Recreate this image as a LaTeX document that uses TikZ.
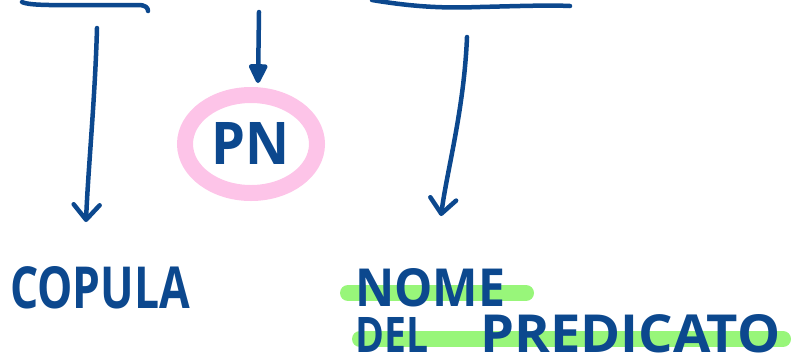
\documentclass[tikz,border=0pt]{standalone}
\usepackage{fontspec}
\setmainfont{Open Sans}
\usepackage{graphicx}
\usetikzlibrary{arrows.meta,shapes.geometric}
\definecolor{ink}{RGB}{12,72,142}
\definecolor{pinkring}{RGB}{253,196,232}
\definecolor{hlgreen}{RGB}{152,246,122}
\tikzset{
  pen/.style={draw=ink, line width=4.5pt, line cap=round, line join=round},
  openhead/.style={-{Straight Barb[length=15pt,width=26pt,line width=4.5pt,round]}},
  solidhead/.style={-{Triangle[length=22pt,width=20pt,round]}},
  word/.style={text=ink, inner sep=0pt, anchor=north west, font=\bfseries},
  marker/.style={draw=hlgreen, line width=16pt, line cap=round},
}
\begin{document}
\begin{tikzpicture}[x=1pt,y=-1pt]
\useasboundingbox (0,0) rectangle (791,357);
% top strokes
\coordinate (tla) at (22,2);
\coordinate (tlb) at (148,11);
\coordinate (tra) at (372,0);
\coordinate (trb) at (570,6);
\draw[pen] (tla) .. controls (30,6) and (60,5) .. (100,5) -- (138,5) .. controls (146,5) and (148,8) .. (tlb);
\draw[pen] (tra) .. controls (420,8) and (450,8) .. (480,7) .. controls (520,6) and (550,5) .. (trb);
% PN ring
\node[draw=pinkring, line width=16pt, ellipse, minimum width=132pt, minimum height=98pt, inner sep=0pt] (ring) at (251,144) {};
\node[word, anchor=center] (pn) at (251,143) {\resizebox{78pt}{42pt}{PN}};
% arrows
\coordinate (la) at (97,28);
\coordinate (lb) at (86,222);
\draw[pen, openhead] (la) .. controls (95,100) and (88,170) .. (lb);
\coordinate (ma) at (259,12);
\coordinate (mb) at (258,83);
\draw[pen, draw=ink, fill=ink, solidhead] (ma) -- (mb);
\coordinate (ra) at (467,37);
\coordinate (rb) at (441,216);
\draw[pen, openhead] (ra) .. controls (464,110) and (447,170) .. (rb);
% highlights
\coordinate (g1a) at (348,293);
\coordinate (g1b) at (526,293);
\coordinate (g2a) at (360,339);
\coordinate (g2b) at (783,339);
\draw[marker] (g1a) -- (g1b);
\draw[marker] (g2a) -- (g2b);
% words
\node[word] (copula) at (10,266) {\resizebox{180pt}{42pt}{COPULA}};
\node[word] (nome) at (355,268) {\resizebox{150pt}{38pt}{NOME}};
\node[word] (del) at (355,317) {\resizebox{73pt}{35pt}{DEL}};
\node[word] (pred) at (480,314) {\resizebox{300pt}{38pt}{PREDICATO}};
\end{tikzpicture}
\end{document}
